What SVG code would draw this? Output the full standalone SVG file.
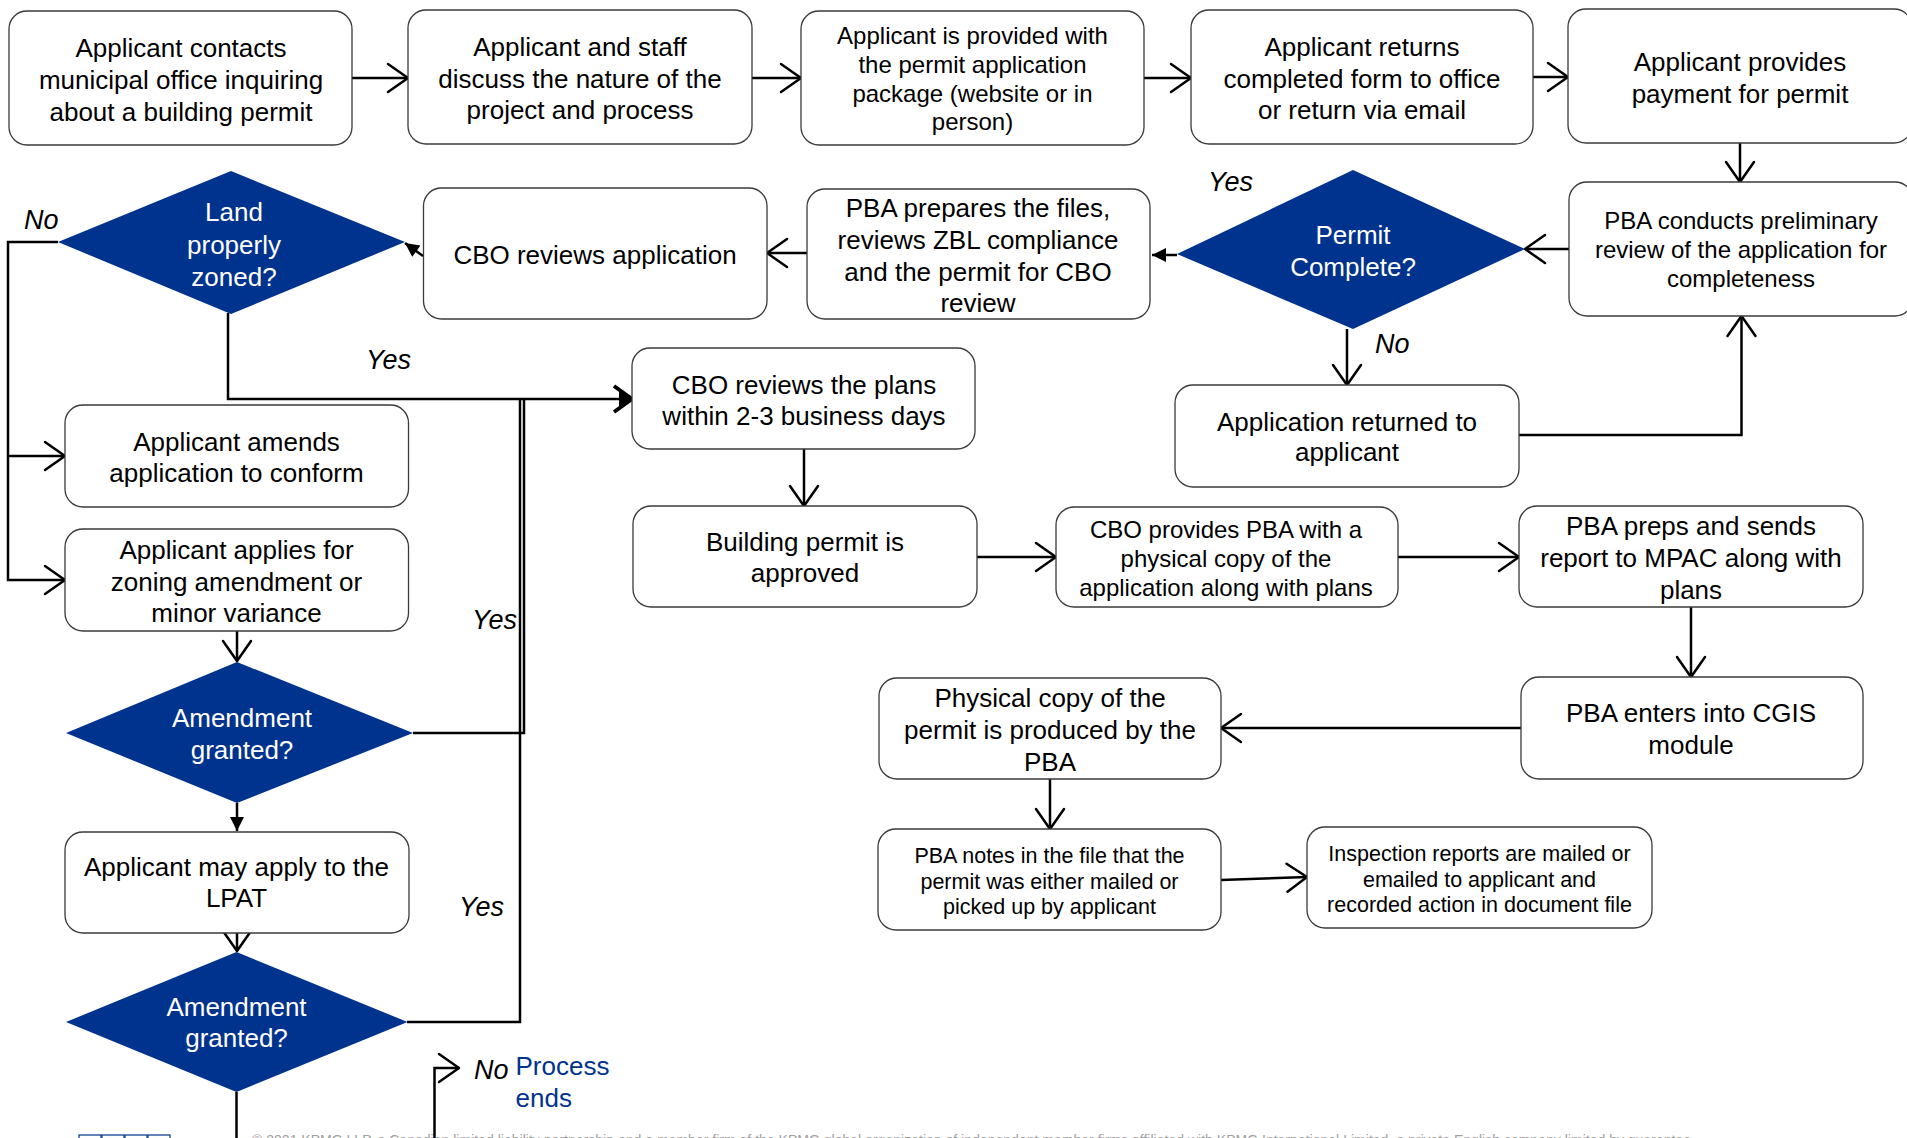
<svg xmlns="http://www.w3.org/2000/svg" width="1907" height="1138" viewBox="0 0 1907 1138">
  <style>
    .box { fill: #ffffff; stroke: #3a3a3a; stroke-width: 1.3; }
    .dec { fill: #00338d; stroke: none; }
    .t { font-family: "Liberation Sans", Arial, sans-serif; font-size: 26px; text-anchor: middle; fill: #000; }
    .s { font-size: 24px; }
    .xs { font-size: 21.5px; }
    .w { fill: #ffffff; }
    .lab { font-family: "Liberation Sans", Arial, sans-serif; font-size: 27px; font-style: italic; fill: #000; }
    .end { font-family: "Liberation Sans", Arial, sans-serif; font-size: 26px; fill: #00338d; }
    .c { fill: none; stroke: #000; stroke-width: 2.5; }
    .foot { font-family: "Liberation Sans", Arial, sans-serif; font-size: 14px; fill: #a0a0a0; }
  </style>
  <defs>
    <marker id="open" markerUnits="userSpaceOnUse" markerWidth="30" markerHeight="30" refX="22" refY="15" orient="auto" overflow="visible">
      <path d="M2,1 L22,15 L2,29" fill="none" stroke="#000" stroke-width="2.5" stroke-linejoin="round" stroke-linecap="round"/>
    </marker>
    <marker id="solid" markerUnits="userSpaceOnUse" markerWidth="16" markerHeight="14" refX="14" refY="7" orient="auto" overflow="visible">
      <path d="M0,0 L14,7 L0,14 Z" fill="#000"/>
    </marker>
    <marker id="bold" markerUnits="userSpaceOnUse" markerWidth="22" markerHeight="30" refX="19" refY="14" orient="auto" overflow="visible">
      <path d="M1,1 L19,14 L1,27" fill="none" stroke="#000" stroke-width="4" stroke-linejoin="round"/>
      <path d="M6,6 L19,14 L6,22 Z" fill="#000"/>
    </marker>
  </defs>

  <!-- connectors -->
  <g id="connectors">
    <line class="c" x1="352" y1="78" x2="408" y2="78" marker-end="url(#open)"/>
    <line class="c" x1="752" y1="78" x2="801" y2="78" marker-end="url(#open)"/>
    <line class="c" x1="1144" y1="78" x2="1191" y2="78" marker-end="url(#open)"/>
    <line class="c" x1="1533" y1="77" x2="1568" y2="77" marker-end="url(#open)"/>
    <line class="c" x1="1740" y1="143" x2="1740" y2="182" marker-end="url(#open)"/>
    <line class="c" x1="1569" y1="249" x2="1525" y2="249" marker-end="url(#open)"/>
    <line class="c" x1="1177" y1="255" x2="1152" y2="255" marker-end="url(#solid)"/>
    <line class="c" x1="807" y1="253" x2="767" y2="253" marker-end="url(#open)"/>
    <line class="c" x1="423" y1="256" x2="405" y2="243" marker-end="url(#solid)"/>
    <!-- "No" branch of zoning check -->
    <path class="c" d="M58,242 H8 V580 H65" marker-end="url(#open)"/>
    <path class="c" d="M8,456 H65" marker-end="url(#open)"/>
    <!-- "Yes" branch of zoning check -->
    <path class="c" d="M228,313 V399 H632" marker-end="url(#bold)"/>
    <!-- amendment granted returns -->
    <path class="c" d="M413,733 H524 V399"/>
    <path class="c" d="M407,1022 H520 V399"/>
    <line class="c" x1="237" y1="631" x2="237" y2="661" marker-end="url(#open)"/>
    <line class="c" x1="237" y1="803" x2="237" y2="831" marker-end="url(#solid)"/>
    <line class="c" x1="237" y1="933" x2="237" y2="951" marker-end="url(#open)"/>
    <line class="c" x1="236.5" y1="1092" x2="236.5" y2="1140"/>
    <path class="c" d="M434.5,1140 V1068 H459" marker-end="url(#open)"/>
    <!-- permit completeness loop -->
    <line class="c" x1="1347" y1="329" x2="1347" y2="385" marker-end="url(#open)"/>
    <path class="c" d="M1519,435 H1741.5 V316" marker-end="url(#open)"/>
    <!-- approval chain -->
    <line class="c" x1="804" y1="449" x2="804" y2="506" marker-end="url(#open)"/>
    <line class="c" x1="977" y1="557" x2="1056" y2="557" marker-end="url(#open)"/>
    <line class="c" x1="1398" y1="557" x2="1519" y2="557" marker-end="url(#open)"/>
    <line class="c" x1="1691" y1="607" x2="1691" y2="677" marker-end="url(#open)"/>
    <line class="c" x1="1521" y1="728" x2="1221" y2="728" marker-end="url(#open)"/>
    <line class="c" x1="1050" y1="779" x2="1050" y2="829" marker-end="url(#open)"/>
    <line class="c" x1="1221" y1="880" x2="1307" y2="877" marker-end="url(#open)"/>
  </g>

  <!-- top row -->
  <g id="n-contact">
    <rect class="box" x="9" y="11" width="343" height="134" rx="18"/>
    <text class="t"><tspan x="181" y="57">Applicant contacts</tspan><tspan x="181" y="89">municipal office inquiring</tspan><tspan x="181" y="121">about a building permit</tspan></text>
  </g>
  <g id="n-discuss">
    <rect class="box" x="408" y="10" width="344" height="134" rx="18"/>
    <text class="t"><tspan x="580" y="56">Applicant and staff</tspan><tspan x="580" y="88">discuss the nature of the</tspan><tspan x="580" y="119">project and process</tspan></text>
  </g>
  <g id="n-package">
    <rect class="box" x="801" y="11" width="343" height="134" rx="18"/>
    <text class="t s"><tspan x="972.5" y="44">Applicant is provided with</tspan><tspan x="972.5" y="73">the permit application</tspan><tspan x="972.5" y="102">package (website or in</tspan><tspan x="972.5" y="130">person)</tspan></text>
  </g>
  <g id="n-return-form">
    <rect class="box" x="1191" y="10" width="342" height="134" rx="18"/>
    <text class="t"><tspan x="1362" y="56">Applicant returns</tspan><tspan x="1362" y="88">completed form to office</tspan><tspan x="1362" y="119">or return via email</tspan></text>
  </g>
  <g id="n-payment">
    <rect class="box" x="1568" y="9" width="344" height="134" rx="18"/>
    <text class="t"><tspan x="1740" y="71">Applicant provides</tspan><tspan x="1740" y="103">payment for permit</tspan></text>
  </g>

  <!-- second row -->
  <g id="n-preliminary">
    <rect class="box" x="1569" y="182" width="344" height="134" rx="18"/>
    <text class="t s"><tspan x="1741" y="229">PBA conducts preliminary</tspan><tspan x="1741" y="258">review of the application for</tspan><tspan x="1741" y="287">completeness</tspan></text>
  </g>
  <g id="d-permit-complete">
    <polygon class="dec" points="1353,170 1525,249 1353,329 1177,254"/>
    <text class="t w"><tspan x="1353" y="244">Permit</tspan><tspan x="1353" y="276">Complete?</tspan></text>
  </g>
  <g id="n-prepares">
    <rect class="box" x="807" y="189" width="343" height="130" rx="18"/>
    <text class="t"><tspan x="978" y="217">PBA prepares the files,</tspan><tspan x="978" y="249">reviews ZBL compliance</tspan><tspan x="978" y="281">and the permit for CBO</tspan><tspan x="978" y="312">review</tspan></text>
  </g>
  <g id="n-cbo-reviews-app">
    <rect class="box" x="423.5" y="188" width="343.5" height="131" rx="18"/>
    <text class="t" x="595" y="264">CBO reviews application</text>
  </g>
  <g id="d-land-zoned">
    <polygon class="dec" points="231,171 405,242 231,314 58,242"/>
    <text class="t w"><tspan x="234" y="221">Land</tspan><tspan x="234" y="254">properly</tspan><tspan x="234" y="286">zoned?</tspan></text>
  </g>

  <!-- left column -->
  <g id="n-amends">
    <rect class="box" x="65" y="405" width="343.5" height="102" rx="18"/>
    <text class="t"><tspan x="236.5" y="451">Applicant amends</tspan><tspan x="236.5" y="482">application to conform</tspan></text>
  </g>
  <g id="n-zoning-amendment">
    <rect class="box" x="65" y="529" width="343.5" height="102" rx="18"/>
    <text class="t"><tspan x="236.5" y="559">Applicant applies for</tspan><tspan x="236.5" y="591">zoning amendment or</tspan><tspan x="236.5" y="622">minor variance</tspan></text>
  </g>
  <g id="d-amendment-1">
    <polygon class="dec" points="237,662 413,733 237,803 66,733"/>
    <text class="t w"><tspan x="242" y="727">Amendment</tspan><tspan x="242" y="759">granted?</tspan></text>
  </g>
  <g id="n-lpat">
    <rect class="box" x="65" y="832" width="344" height="101" rx="18"/>
    <text class="t"><tspan x="236.5" y="876">Applicant may apply to the</tspan><tspan x="236.5" y="907">LPAT</tspan></text>
  </g>
  <g id="d-amendment-2">
    <polygon class="dec" points="236.5,952 407.5,1022 236.5,1092 66,1022"/>
    <text class="t w"><tspan x="236.5" y="1016">Amendment</tspan><tspan x="236.5" y="1047">granted?</tspan></text>
  </g>
  <g id="n-process-ends">
    <text class="end"><tspan x="515.5" y="1075">Process</tspan><tspan x="515.5" y="1107">ends</tspan></text>
  </g>

  <!-- centre and right -->
  <g id="n-cbo-plans">
    <rect class="box" x="632" y="348" width="343" height="101" rx="18"/>
    <text class="t"><tspan x="804" y="394">CBO reviews the plans</tspan><tspan x="804" y="425">within 2-3 business days</tspan></text>
  </g>
  <g id="n-returned">
    <rect class="box" x="1175" y="385" width="344" height="102" rx="18"/>
    <text class="t"><tspan x="1347" y="431">Application returned to</tspan><tspan x="1347" y="461">applicant</tspan></text>
  </g>
  <g id="n-approved">
    <rect class="box" x="633" y="506" width="344" height="101" rx="18"/>
    <text class="t"><tspan x="805" y="551">Building permit is</tspan><tspan x="805" y="582">approved</tspan></text>
  </g>
  <g id="n-physical-copy-app">
    <rect class="box" x="1056" y="507" width="342" height="100" rx="18"/>
    <text class="t s"><tspan x="1226" y="538">CBO provides PBA with a</tspan><tspan x="1226" y="567">physical copy of the</tspan><tspan x="1226" y="596">application along with plans</tspan></text>
  </g>
  <g id="n-mpac">
    <rect class="box" x="1519" y="506" width="344" height="101" rx="18"/>
    <text class="t"><tspan x="1691" y="535">PBA preps and sends</tspan><tspan x="1691" y="567">report to MPAC along with</tspan><tspan x="1691" y="599">plans</tspan></text>
  </g>
  <g id="n-cgis">
    <rect class="box" x="1521" y="677" width="342" height="102" rx="18"/>
    <text class="t"><tspan x="1691" y="722">PBA enters into CGIS</tspan><tspan x="1691" y="754">module</tspan></text>
  </g>
  <g id="n-physical-permit">
    <rect class="box" x="879" y="678" width="342" height="101" rx="18"/>
    <text class="t"><tspan x="1050" y="707">Physical copy of the</tspan><tspan x="1050" y="739">permit is produced by the</tspan><tspan x="1050" y="771">PBA</tspan></text>
  </g>
  <g id="n-notes">
    <rect class="box" x="878" y="829" width="343" height="101" rx="18"/>
    <text class="t xs"><tspan x="1049.5" y="863">PBA notes in the file that the</tspan><tspan x="1049.5" y="889">permit was either mailed or</tspan><tspan x="1049.5" y="914">picked up by applicant</tspan></text>
  </g>
  <g id="n-inspection">
    <rect class="box" x="1307" y="827" width="345" height="101" rx="18"/>
    <text class="t xs"><tspan x="1479.5" y="861">Inspection reports are mailed or</tspan><tspan x="1479.5" y="887">emailed to applicant and</tspan><tspan x="1479.5" y="912">recorded action in document file</tspan></text>
  </g>

  <!-- branch labels -->
  <g id="labels">
    <text class="lab" x="24" y="229">No</text>
    <text class="lab" x="366" y="369">Yes</text>
    <text class="lab" x="472" y="629">Yes</text>
    <text class="lab" x="459" y="916">Yes</text>
    <text class="lab" x="474" y="1079">No</text>
    <text class="lab" x="1208" y="191">Yes</text>
    <text class="lab" x="1375" y="353">No</text>
  </g>

  <!-- page footer -->
  <g id="footer">
    <rect x="79" y="1135" width="22" height="22" fill="none" stroke="#00338d" stroke-width="1.2"/>
    <rect x="102" y="1135" width="22" height="22" fill="none" stroke="#00338d" stroke-width="1.2"/>
    <rect x="125" y="1135" width="22" height="22" fill="none" stroke="#00338d" stroke-width="1.2"/>
    <rect x="148" y="1135" width="22" height="22" fill="none" stroke="#00338d" stroke-width="1.2"/>
    <text class="foot" x="252" y="1145" textLength="1443" lengthAdjust="spacing">© 2021 KPMG LLP, a Canadian limited liability partnership and a member firm of the KPMG global organization of independent member firms affiliated with KPMG International Limited, a private English company limited by guarantee.</text>
  </g>
</svg>
